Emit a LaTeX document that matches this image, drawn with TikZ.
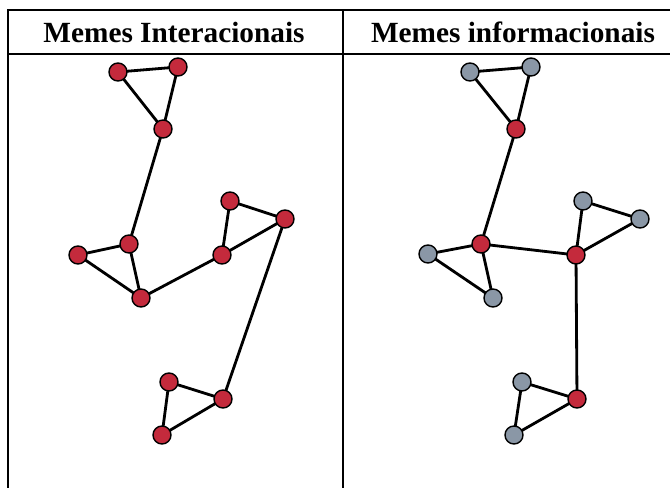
\documentclass[tikz,border=0pt]{standalone}
\usepackage{fontspec}
\setmainfont{Liberation Serif}
\usetikzlibrary{positioning, backgrounds}
\definecolor{MemeRed}{HTML}{C42A3C}
\definecolor{MemeGray}{HTML}{8A97A6}
\begin{document}
\begin{tikzpicture}[
        x=0.03cm, y=-0.03cm,
        meme/.style={circle, draw=black, line width=1.2pt, minimum size=0.54cm, inner sep=0pt},
        inter/.style={meme, fill=MemeRed},
        info/.style={meme, fill=MemeGray},
        link/.style={line width=2.4pt, color=black},
        grid/.style={line width=1.8pt, color=black},
        title/.style={font=\fontsize{25}{28}\selectfont\bfseries}
    ]
    \useasboundingbox (0,0) rectangle (670,488);

    % Table
    \draw[grid] (8,500) -- (8,10) -- (700,10);
    \draw[grid] (8,54) -- (700,54);
    \draw[grid] (343,10) -- (343,500);
    \node[title] (head1) at (174,32) {Memes Interacionais};
    \node[title] (head2) at (513,32) {Memes informacionais};

    % Memes interacionais
    \node (a1) [inter] at (118,72) {};
    \node (a2) [inter] at (178,67) {};
    \node (a3) [inter] at (163,129) {};
    \node (a4) [inter] at (129,244) {};
    \node (a5) [inter] at (78,255) {};
    \node (a6) [inter] at (141,298) {};
    \node (a7) [inter] at (230,201) {};
    \node (a8) [inter] at (285,219) {};
    \node (a9) [inter] at (222,255) {};
    \node (a10) [inter] at (169,382) {};
    \node (a11) [inter] at (223,399) {};
    \node (a12) [inter] at (162,435) {};

    % Memes informacionais
    \node (b1) [info] at (470,72) {};
    \node (b2) [info] at (531,67) {};
    \node (b3) [inter] at (516,129) {};
    \node (b4) [inter] at (481,244) {};
    \node (b5) [info] at (428,254) {};
    \node (b6) [info] at (493,298) {};
    \node (b7) [info] at (583,201) {};
    \node (b8) [info] at (640,219) {};
    \node (b9) [inter] at (576,255) {};
    \node (b10) [info] at (522,382) {};
    \node (b11) [inter] at (577,399) {};
    \node (b12) [info] at (514,435) {};

    % Links
    \begin{pgfonlayer}{background}
    \foreach \u/\v in {1/2, 1/3, 2/3, 3/4, 4/5, 5/6, 4/6, 6/9, 9/7, 7/8, 9/8, 8/11, 11/10, 10/12, 12/11}
        \draw[link] (a\u.center) -- (a\v.center);
    \foreach \u/\v in {1/2, 1/3, 2/3, 3/4, 4/5, 5/6, 4/6, 4/9, 9/7, 7/8, 9/8, 9/11, 11/10, 10/12, 12/11}
        \draw[link] (b\u.center) -- (b\v.center);
    \end{pgfonlayer}
\end{tikzpicture}
\end{document}
